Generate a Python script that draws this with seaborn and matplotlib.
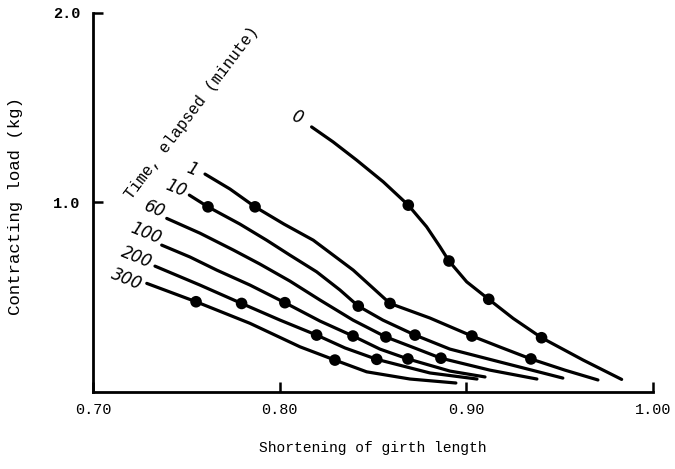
import matplotlib
matplotlib.use("Agg")
import matplotlib.pyplot as plt
import pandas as pd
import seaborn as sns

# ---- data ----
times = ["0", "1", "10", "60", "100", "200", "300"]

# drawn curve paths (shortening of girth length, contracting load kg)
c0_x = [0.8171, 0.8286, 0.8412, 0.8555, 0.8689, 0.8787, 0.8859, 0.8907, 0.9002, 0.9120, 0.9251, 0.9403, 0.9626, 0.9832]
c0_y = [1.397, 1.318, 1.222, 1.107, 0.984, 0.870, 0.764, 0.689, 0.579, 0.487, 0.386, 0.284, 0.166, 0.064]

c1_x = [0.7600, 0.7734, 0.7868, 0.8023, 0.8180, 0.8394, 0.8591, 0.8805, 0.9030, 0.9180, 0.9346, 0.9528, 0.9705]
c1_y = [1.148, 1.069, 0.975, 0.884, 0.799, 0.641, 0.465, 0.388, 0.293, 0.235, 0.172, 0.113, 0.061]

c10_x = [0.7516, 0.7616, 0.7787, 0.7930, 0.8055, 0.8198, 0.8323, 0.8421, 0.8553, 0.8725, 0.8912, 0.9180, 0.9517]
c10_y = [1.037, 0.975, 0.884, 0.799, 0.720, 0.632, 0.536, 0.451, 0.377, 0.298, 0.224, 0.156, 0.071]

c60_x = [0.7395, 0.7573, 0.7752, 0.7894, 0.8055, 0.8216, 0.8393, 0.8569, 0.8725, 0.8864, 0.9126, 0.9378]
c60_y = [0.914, 0.836, 0.747, 0.673, 0.583, 0.483, 0.377, 0.288, 0.229, 0.176, 0.113, 0.066]

c100_x = [0.7368, 0.7520, 0.7663, 0.7841, 0.8028, 0.8216, 0.8393, 0.8537, 0.8687, 0.8912, 0.9100]
c100_y = [0.773, 0.710, 0.641, 0.562, 0.469, 0.372, 0.293, 0.224, 0.172, 0.108, 0.077]

c200_x = [0.7332, 0.7573, 0.7796, 0.8002, 0.8198, 0.8350, 0.8520, 0.8805, 0.9057]
c200_y = [0.662, 0.562, 0.465, 0.377, 0.298, 0.230, 0.170, 0.098, 0.066]

c300_x = [0.7288, 0.7552, 0.7841, 0.8109, 0.8296, 0.8466, 0.8698, 0.8944]
c300_y = [0.571, 0.474, 0.360, 0.236, 0.166, 0.104, 0.066, 0.045]

# measured points (dots)
m0_x = [0.8689, 0.8907, 0.9120, 0.9403]
m0_y = [0.984, 0.689, 0.487, 0.284]
m1_x = [0.7868, 0.8591, 0.9030, 0.9346]
m1_y = [0.975, 0.465, 0.293, 0.172]
m10_x = [0.7616, 0.8421, 0.8725]
m10_y = [0.975, 0.451, 0.298]
m60_x = [0.8569, 0.8864]
m60_y = [0.288, 0.176]
m100_x = [0.8028, 0.8393, 0.8687]
m100_y = [0.469, 0.293, 0.172]
m200_x = [0.7796, 0.8198, 0.8520]
m200_y = [0.465, 0.298, 0.170]
m300_x = [0.7552, 0.8296]
m300_y = [0.474, 0.166]

# curve label positions
lab_x = [0.8093, 0.7530, 0.7445, 0.7332, 0.7284, 0.7236, 0.7182]
lab_y = [1.449, 1.175, 1.073, 0.960, 0.834, 0.709, 0.590]

x_ticks = [0.70, 0.80, 0.90, 1.00]
x_tick_labels = ["0.70", "0.80", "0.90", "1.00"]
y_ticks = [1.0, 2.0]
y_tick_labels = ["1.0", "2.0"]

# ---- build tables ----
curves = [(c0_x, c0_y), (c1_x, c1_y), (c10_x, c10_y), (c60_x, c60_y),
          (c100_x, c100_y), (c200_x, c200_y), (c300_x, c300_y)]
marks = [(m0_x, m0_y), (m1_x, m1_y), (m10_x, m10_y), (m60_x, m60_y),
         (m100_x, m100_y), (m200_x, m200_y), (m300_x, m300_y)]

line_df = pd.concat([pd.DataFrame({"x": cx, "y": cy, "time": t})
                     for t, (cx, cy) in zip(times, curves)], ignore_index=True)
pt_df = pd.concat([pd.DataFrame({"x": mx, "y": my, "time": t})
                   for t, (mx, my) in zip(times, marks)], ignore_index=True)

sns.set_theme(style="ticks")
plt.rcParams['font.family'] = ['Liberation Mono', 'DejaVu Sans Mono']

fig = plt.figure(figsize=(6.75, 4.69), dpi=100)
ax = fig.add_axes([0.1378, 0.1652, 0.8296, 0.8077])

black = {t: "black" for t in times}
sns.lineplot(data=line_df, x="x", y="y", hue="time", palette=black,
             estimator=None, sort=False, linewidth=2.3, legend=False, ax=ax)
sns.scatterplot(data=pt_df, x="x", y="y", hue="time", palette=black,
                s=70, linewidth=0, legend=False, zorder=3, ax=ax)

for t, lx, ly in zip(times, lab_x, lab_y):
    ax.text(lx, ly, t, rotation=-22, ha="center", va="center",
            fontsize=12, style="italic", family=["DejaVu Sans"], color="black")

ax.text(0.7528, 1.472, "Time, elapsed (minute)", rotation=53,
        ha="center", va="center", rotation_mode="anchor", fontsize=11.5, color="black")

ax.set_xlim(0.70, 1.00)
ax.set_ylim(0.0, 2.0)
ax.set_xticks(x_ticks)
ax.set_xticklabels(x_tick_labels, fontsize=11)
ax.set_yticks(y_ticks)
ax.set_yticklabels(y_tick_labels, fontsize=11, fontweight="bold")
ax.tick_params(direction="in", length=7, width=1.8, color="black",
               bottom=True, left=True, labelcolor="black")
ax.tick_params(axis="x", pad=8)
ax.tick_params(axis="y", pad=9)

for s in ["top", "right"]:
    ax.spines[s].set_visible(False)
for s in ["left", "bottom"]:
    ax.spines[s].set_linewidth(2.0)
    ax.spines[s].set_color("black")

ax.set_xlabel("Shortening of girth length", fontsize=10.5, va="center", color="black")
ax.xaxis.set_label_coords(0.5, -0.149)
ax.set_ylabel("Contracting load (kg)", fontsize=12.5, va="center", color="black")
ax.yaxis.set_label_coords(-0.139, 0.49)

fig.savefig("out.png", dpi=100, facecolor="white")
